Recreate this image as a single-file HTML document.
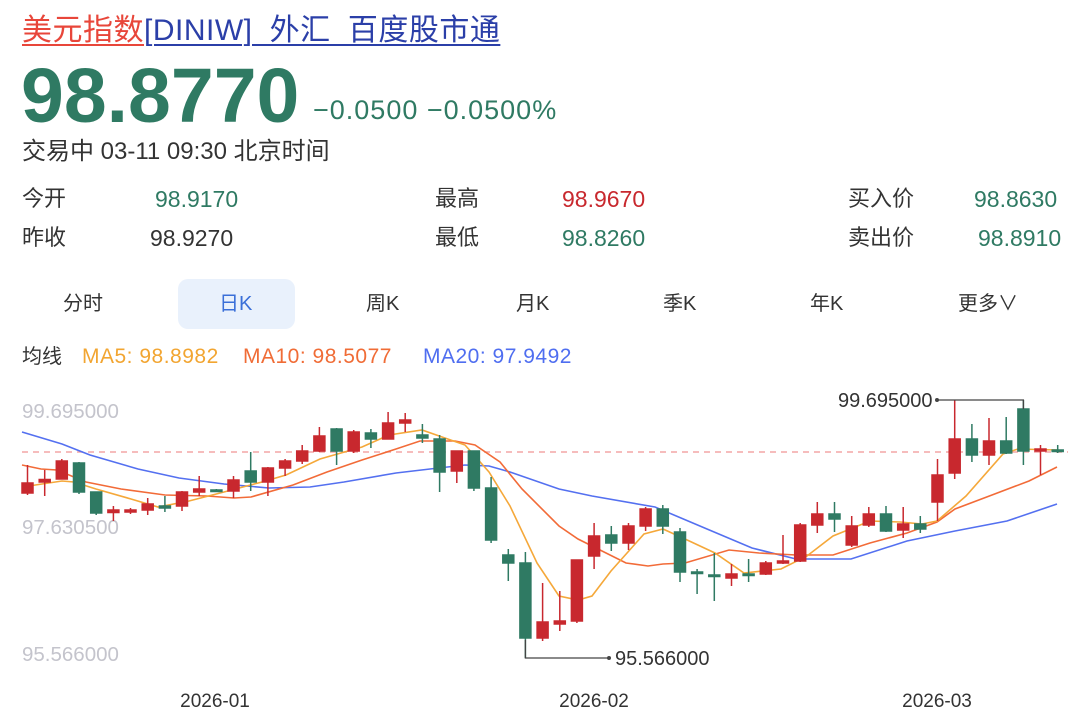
<!DOCTYPE html>
<html><head><meta charset="utf-8"><style>
body{margin:0;width:1080px;height:723px;background:#fff;position:relative;overflow:hidden;font-family:"Liberation Sans","Noto Sans CJK SC",sans-serif;}
.a{position:absolute;white-space:nowrap;}
.g{color:#2f7a63}.r{color:#c8282e}.k{color:#333}
.row{font-size:23px;line-height:28px;}
.lab{font-size:22px;line-height:28px;}
</style></head><body>
<div class="a" style="left:22px;top:13px;font-size:30px;line-height:36px;letter-spacing:0.5px;"><span style="color:#e8463a;text-decoration:underline;text-decoration-thickness:2px;text-underline-offset:4px">美元指数</span><span style="color:#2b3fa8;text-decoration:underline;text-decoration-thickness:2px;text-underline-offset:4px">[DINIW]_外汇_百度股市通</span></div>
<div class="a g" style="left:21px;top:55px;font-size:77px;font-weight:bold;line-height:82px;">98.8770</div>
<div class="a g" style="left:313px;top:95px;font-size:27px;line-height:30px;letter-spacing:1px;">−0.0500 −0.0500%</div>
<div class="a k" style="left:22px;top:137px;font-size:24px;line-height:30px;">交易中 03-11 09:30 北京时间</div>

<div class="a k lab" style="left:22px;top:185px;">今开</div>
<div class="a g row" style="left:155px;top:185px;">98.9170</div>
<div class="a k lab" style="left:435px;top:185px;">最高</div>
<div class="a r row" style="left:562px;top:185px;">98.9670</div>
<div class="a k lab" style="left:848px;top:185px;">买入价</div>
<div class="a g row" style="left:974px;top:185px;">98.8630</div>
<div class="a k lab" style="left:22px;top:224px;">昨收</div>
<div class="a k row" style="left:150px;top:224px;">98.9270</div>
<div class="a k lab" style="left:435px;top:224px;">最低</div>
<div class="a g row" style="left:562px;top:224px;">98.8260</div>
<div class="a k lab" style="left:848px;top:224px;">卖出价</div>
<div class="a g row" style="left:978px;top:224px;">98.8910</div>

<div class="a" style="left:178px;top:279px;width:117px;height:50px;background:#e9f1fc;border-radius:10px;"></div>
<div class="a k" style="left:63px;top:290px;font-size:20px;line-height:28px;">分时</div>
<div class="a" style="left:219px;top:290px;font-size:20px;line-height:28px;color:#3a6fd8;">日K</div>
<div class="a k" style="left:366px;top:290px;font-size:20px;line-height:28px;">周K</div>
<div class="a k" style="left:516px;top:290px;font-size:20px;line-height:28px;">月K</div>
<div class="a k" style="left:663px;top:290px;font-size:20px;line-height:28px;">季K</div>
<div class="a k" style="left:810px;top:290px;font-size:20px;line-height:28px;">年K</div>
<div class="a k" style="left:958px;top:290px;font-size:20px;line-height:28px;">更多∨</div>

<div class="a k" style="left:22px;top:343px;font-size:20px;line-height:28px;">均线</div>
<div class="a" style="left:82px;top:343px;font-size:21px;line-height:28px;color:#f2a531;letter-spacing:0.5px;">MA5: 98.8982</div>
<div class="a" style="left:243px;top:343px;font-size:21px;line-height:28px;color:#f06c36;letter-spacing:0.5px;">MA10: 98.5077</div>
<div class="a" style="left:423px;top:343px;font-size:21px;line-height:28px;color:#4f6ef0;letter-spacing:0.5px;">MA20: 97.9492</div>

<svg class="a" style="left:0;top:0" width="1080" height="723" xmlns="http://www.w3.org/2000/svg">
<g font-family="Liberation Sans, sans-serif" font-size="20.5" fill="#c4c4cc">
<text x="22" y="418">99.695000</text><text x="22" y="534">97.630500</text><text x="22" y="661">95.566000</text>
</g>
<g font-family="Liberation Sans, sans-serif" font-size="19" fill="#333" text-anchor="middle">
<text x="215" y="707">2026-01</text><text x="594" y="707">2026-02</text><text x="937" y="707">2026-03</text>
</g>
<line x1="22" y1="452" x2="1068" y2="452" stroke="#f4a6a6" stroke-width="1.5" stroke-dasharray="6,5"/>
<polyline fill="none" stroke="#5470f0" stroke-width="1.6" points="22,432 62,444 90,455 138,469 179,478 224,484 269,488 310,487 344,482 396,473 430,469 465,465 489,466 510,472 559,489 592,496 655,507 707,529 752,548 796,559 851,559 907,541 955,531 1007,521 1057,504"/>
<polyline fill="none" stroke="#f26b38" stroke-width="1.6" points="22,465 41,469 57,470 86,482 121,489 165,495 207,496 234,498 251,497 293,485 327,472 362,460 396,449 420,441 455,441 475,445 500,462 522,489 559,526 578,539 626,563 648,566 663,564 685,563 729,550 759,553 796,555 833,555 870,543 907,533 937,522 955,509 992,495 1029,481 1057,467"/>
<polyline fill="none" stroke="#f5a83a" stroke-width="1.6" points="22,487 62,481 74,482 96,489 131,499 158,507 189,501 224,492 262,482 286,475 320,459 362,447 389,435 422,430 465,445 489,472 510,506 537,563 559,596 578,600 592,596 611,571 644,534 663,529 685,539 715,553 744,573 781,569 807,556 833,536 870,521 900,522 922,524 937,521 966,496 1003,454 1018,449 1057,450"/>
<g stroke-width="1.5">
<g stroke="#c8282e" fill="#c8282e"><line x1="27.5" y1="465" x2="27.5" y2="495"/><rect x="22" y="483" width="11" height="10"/></g>
<g stroke="#c8282e" fill="#c8282e"><line x1="44.7" y1="470" x2="44.7" y2="496"/><rect x="39.2" y="479.5" width="11" height="2.5"/></g>
<g stroke="#c8282e" fill="#c8282e"><line x1="61.8" y1="459" x2="61.8" y2="479"/><rect x="56.3" y="461" width="11" height="18"/></g>
<g stroke="#2f7a63" fill="#2f7a63"><line x1="79" y1="462" x2="79" y2="494"/><rect x="73.5" y="463" width="11" height="29"/></g>
<g stroke="#2f7a63" fill="#2f7a63"><line x1="96.2" y1="492" x2="96.2" y2="515"/><rect x="90.7" y="492" width="11" height="21"/></g>
<g stroke="#c8282e" fill="#c8282e"><line x1="113.4" y1="506" x2="113.4" y2="521"/><rect x="107.9" y="510" width="11" height="2.5"/></g>
<g stroke="#c8282e" fill="#c8282e"><line x1="130.5" y1="508" x2="130.5" y2="514"/><rect x="125" y="510" width="11" height="2"/></g>
<g stroke="#c8282e" fill="#c8282e"><line x1="147.7" y1="498" x2="147.7" y2="515"/><rect x="142.2" y="504" width="11" height="6"/></g>
<g stroke="#2f7a63" fill="#2f7a63"><line x1="164.9" y1="496" x2="164.9" y2="512"/><rect x="159.4" y="506" width="11" height="2"/></g>
<g stroke="#c8282e" fill="#c8282e"><line x1="182" y1="491" x2="182" y2="511"/><rect x="176.5" y="492" width="11" height="14"/></g>
<g stroke="#c8282e" fill="#c8282e"><line x1="199.2" y1="476" x2="199.2" y2="496"/><rect x="193.7" y="489" width="11" height="3"/></g>
<g stroke="#2f7a63" fill="#2f7a63"><line x1="216.4" y1="489" x2="216.4" y2="492"/><rect x="210.9" y="490" width="11" height="1.5"/></g>
<g stroke="#c8282e" fill="#c8282e"><line x1="233.5" y1="476" x2="233.5" y2="498"/><rect x="228" y="480" width="11" height="11"/></g>
<g stroke="#2f7a63" fill="#2f7a63"><line x1="250.7" y1="452" x2="250.7" y2="491"/><rect x="245.2" y="471" width="11" height="11"/></g>
<g stroke="#c8282e" fill="#c8282e"><line x1="267.9" y1="467" x2="267.9" y2="496"/><rect x="262.4" y="468" width="11" height="14"/></g>
<g stroke="#c8282e" fill="#c8282e"><line x1="285.1" y1="459" x2="285.1" y2="476"/><rect x="279.6" y="461" width="11" height="7"/></g>
<g stroke="#c8282e" fill="#c8282e"><line x1="302.2" y1="445" x2="302.2" y2="464"/><rect x="296.7" y="451" width="11" height="10"/></g>
<g stroke="#c8282e" fill="#c8282e"><line x1="319.4" y1="427" x2="319.4" y2="452"/><rect x="313.9" y="436" width="11" height="15"/></g>
<g stroke="#2f7a63" fill="#2f7a63"><line x1="336.6" y1="428" x2="336.6" y2="465"/><rect x="331.1" y="429" width="11" height="22"/></g>
<g stroke="#c8282e" fill="#c8282e"><line x1="353.7" y1="430" x2="353.7" y2="453"/><rect x="348.2" y="432" width="11" height="19"/></g>
<g stroke="#2f7a63" fill="#2f7a63"><line x1="370.9" y1="429" x2="370.9" y2="448"/><rect x="365.4" y="433" width="11" height="6"/></g>
<g stroke="#c8282e" fill="#c8282e"><line x1="388.1" y1="412" x2="388.1" y2="439"/><rect x="382.6" y="423" width="11" height="16"/></g>
<g stroke="#c8282e" fill="#c8282e"><line x1="405.2" y1="413" x2="405.2" y2="432"/><rect x="399.7" y="420" width="11" height="3"/></g>
<g stroke="#2f7a63" fill="#2f7a63"><line x1="422.4" y1="424" x2="422.4" y2="443"/><rect x="416.9" y="435" width="11" height="3"/></g>
<g stroke="#2f7a63" fill="#2f7a63"><line x1="439.6" y1="435" x2="439.6" y2="492"/><rect x="434.1" y="439" width="11" height="33"/></g>
<g stroke="#c8282e" fill="#c8282e"><line x1="456.8" y1="451" x2="456.8" y2="483"/><rect x="451.3" y="451" width="11" height="20"/></g>
<g stroke="#2f7a63" fill="#2f7a63"><line x1="473.9" y1="451" x2="473.9" y2="491"/><rect x="468.4" y="451" width="11" height="37"/></g>
<g stroke="#2f7a63" fill="#2f7a63"><line x1="491.1" y1="477" x2="491.1" y2="543"/><rect x="485.6" y="488" width="11" height="52"/></g>
<g stroke="#2f7a63" fill="#2f7a63"><line x1="508.3" y1="549" x2="508.3" y2="581"/><rect x="502.8" y="555" width="11" height="8"/></g>
<g stroke="#2f7a63" fill="#2f7a63"><line x1="525.4" y1="552" x2="525.4" y2="658"/><rect x="519.9" y="563" width="11" height="75"/></g>
<g stroke="#c8282e" fill="#c8282e"><line x1="542.6" y1="583" x2="542.6" y2="641"/><rect x="537.1" y="622" width="11" height="16"/></g>
<g stroke="#c8282e" fill="#c8282e"><line x1="559.8" y1="591" x2="559.8" y2="631"/><rect x="554.3" y="621" width="11" height="3"/></g>
<g stroke="#c8282e" fill="#c8282e"><line x1="576.9" y1="560" x2="576.9" y2="623"/><rect x="571.4" y="560" width="11" height="61"/></g>
<g stroke="#c8282e" fill="#c8282e"><line x1="594.1" y1="523" x2="594.1" y2="569"/><rect x="588.6" y="536" width="11" height="20"/></g>
<g stroke="#2f7a63" fill="#2f7a63"><line x1="611.3" y1="526" x2="611.3" y2="551"/><rect x="605.8" y="535" width="11" height="8"/></g>
<g stroke="#c8282e" fill="#c8282e"><line x1="628.5" y1="523" x2="628.5" y2="550"/><rect x="623" y="526" width="11" height="17"/></g>
<g stroke="#c8282e" fill="#c8282e"><line x1="645.6" y1="507" x2="645.6" y2="531"/><rect x="640.1" y="509" width="11" height="17"/></g>
<g stroke="#2f7a63" fill="#2f7a63"><line x1="662.8" y1="505" x2="662.8" y2="534"/><rect x="657.3" y="509" width="11" height="17"/></g>
<g stroke="#2f7a63" fill="#2f7a63"><line x1="680" y1="528" x2="680" y2="582"/><rect x="674.5" y="532" width="11" height="40"/></g>
<g stroke="#2f7a63" fill="#2f7a63"><line x1="697.1" y1="569" x2="697.1" y2="594"/><rect x="691.6" y="572" width="11" height="1.5"/></g>
<g stroke="#2f7a63" fill="#2f7a63"><line x1="714.3" y1="553" x2="714.3" y2="601"/><rect x="708.8" y="575" width="11" height="1.5"/></g>
<g stroke="#c8282e" fill="#c8282e"><line x1="731.5" y1="564" x2="731.5" y2="586"/><rect x="726" y="574" width="11" height="4"/></g>
<g stroke="#2f7a63" fill="#2f7a63"><line x1="748.6" y1="559" x2="748.6" y2="582"/><rect x="743.1" y="574" width="11" height="1.5"/></g>
<g stroke="#c8282e" fill="#c8282e"><line x1="765.8" y1="561" x2="765.8" y2="575"/><rect x="760.3" y="563" width="11" height="11"/></g>
<g stroke="#c8282e" fill="#c8282e"><line x1="783" y1="535" x2="783" y2="564"/><rect x="777.5" y="561" width="11" height="2"/></g>
<g stroke="#c8282e" fill="#c8282e"><line x1="800.2" y1="523" x2="800.2" y2="562"/><rect x="794.7" y="525" width="11" height="36"/></g>
<g stroke="#c8282e" fill="#c8282e"><line x1="817.3" y1="502" x2="817.3" y2="533"/><rect x="811.8" y="514" width="11" height="11"/></g>
<g stroke="#2f7a63" fill="#2f7a63"><line x1="834.5" y1="502" x2="834.5" y2="532"/><rect x="829" y="514" width="11" height="5"/></g>
<g stroke="#c8282e" fill="#c8282e"><line x1="851.7" y1="516" x2="851.7" y2="547"/><rect x="846.2" y="526" width="11" height="19"/></g>
<g stroke="#c8282e" fill="#c8282e"><line x1="868.8" y1="507" x2="868.8" y2="527"/><rect x="863.3" y="514" width="11" height="11"/></g>
<g stroke="#2f7a63" fill="#2f7a63"><line x1="886" y1="506" x2="886" y2="532"/><rect x="880.5" y="514" width="11" height="17"/></g>
<g stroke="#c8282e" fill="#c8282e"><line x1="903.2" y1="507" x2="903.2" y2="538"/><rect x="897.7" y="524" width="11" height="6"/></g>
<g stroke="#2f7a63" fill="#2f7a63"><line x1="920.3" y1="516" x2="920.3" y2="533"/><rect x="914.8" y="524" width="11" height="5"/></g>
<g stroke="#c8282e" fill="#c8282e"><line x1="937.5" y1="459" x2="937.5" y2="521"/><rect x="932" y="475" width="11" height="27"/></g>
<g stroke="#c8282e" fill="#c8282e"><line x1="954.7" y1="400" x2="954.7" y2="479"/><rect x="949.2" y="439" width="11" height="34"/></g>
<g stroke="#2f7a63" fill="#2f7a63"><line x1="971.9" y1="424" x2="971.9" y2="462"/><rect x="966.4" y="439" width="11" height="16"/></g>
<g stroke="#c8282e" fill="#c8282e"><line x1="989" y1="418" x2="989" y2="465"/><rect x="983.5" y="441" width="11" height="14"/></g>
<g stroke="#2f7a63" fill="#2f7a63"><line x1="1006.2" y1="417" x2="1006.2" y2="454"/><rect x="1000.7" y="441" width="11" height="12"/></g>
<g stroke="#2f7a63" fill="#2f7a63"><line x1="1023.4" y1="400" x2="1023.4" y2="465"/><rect x="1017.9" y="409" width="11" height="42"/></g>
<g stroke="#c8282e" fill="#c8282e"><line x1="1040.5" y1="445" x2="1040.5" y2="475"/><rect x="1035" y="449" width="11" height="2"/></g>
<g stroke="#2f7a63" fill="#2f7a63"><line x1="1057.7" y1="445" x2="1057.7" y2="453"/><rect x="1052.2" y="450" width="11" height="1.5"/></g>
</g>
<g stroke="#444" stroke-width="1.3" fill="none">
<polyline points="937,400 1023.4,400 1023.4,409"/>
<polyline points="525.4,640 525.4,658 609,658"/>
</g>
<circle cx="937" cy="400" r="2" fill="#444"/><circle cx="609" cy="658" r="2" fill="#444"/>
<g font-family="Liberation Sans, sans-serif" font-size="20" fill="#333">
<text x="838" y="407">99.695000</text><text x="615" y="665">95.566000</text>
</g>
</svg>
</body></html>
